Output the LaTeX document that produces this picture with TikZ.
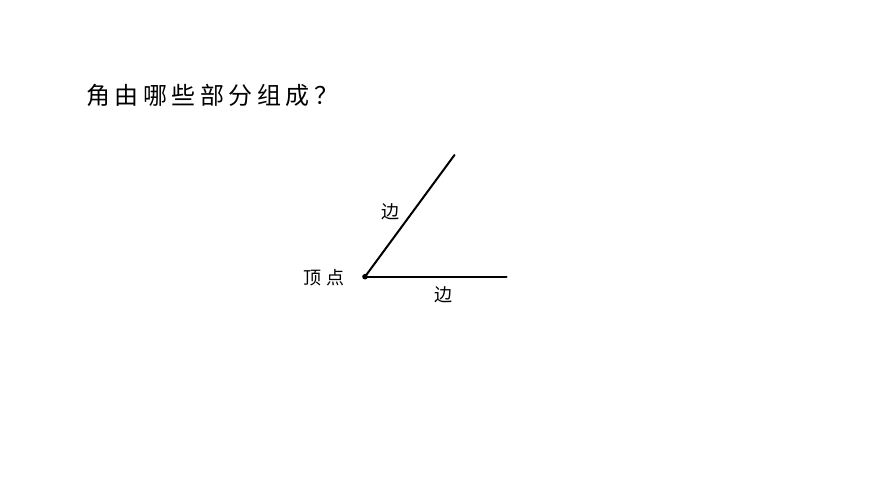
\documentclass[tikz,border=0pt]{standalone}
\usepackage{fontspec}
\newfontfamily\cjk{Noto Sans CJK SC}
\begin{document}
\begin{tikzpicture}[x=1pt,y=1pt,
  ray/.style={line width=2pt, line cap=round},
  lbl/.style={font=\cjk\fontsize{18}{18}\selectfont, inner sep=0pt},
  ttl/.style={font=\cjk\fontsize{24}{24}\selectfont, inner sep=0pt, anchor=west}]
\useasboundingbox (0,0) rectangle (870,489);
\node[ttl] (title) at (86,394) {角\hspace{4.5pt}由\hspace{4.5pt}哪\hspace{4.5pt}些\hspace{4.5pt}部\hspace{4.5pt}分\hspace{4.5pt}组\hspace{4.5pt}成\hspace{4.5pt}？};
\coordinate (V) at (365,212.3);
\coordinate (A) at (454.5,334);
\coordinate (B) at (506.5,212.3);
\draw[ray] (V) -- (A);
\draw[ray] (V) -- (B);
\fill (V) circle (2.8);
\node[lbl] (vertex) at (324,211) {顶\hspace{5pt}点};
\node[lbl] (e1) at (390,277) {边};
\node[lbl] (e2) at (443,194) {边};
\end{tikzpicture}
\end{document}
